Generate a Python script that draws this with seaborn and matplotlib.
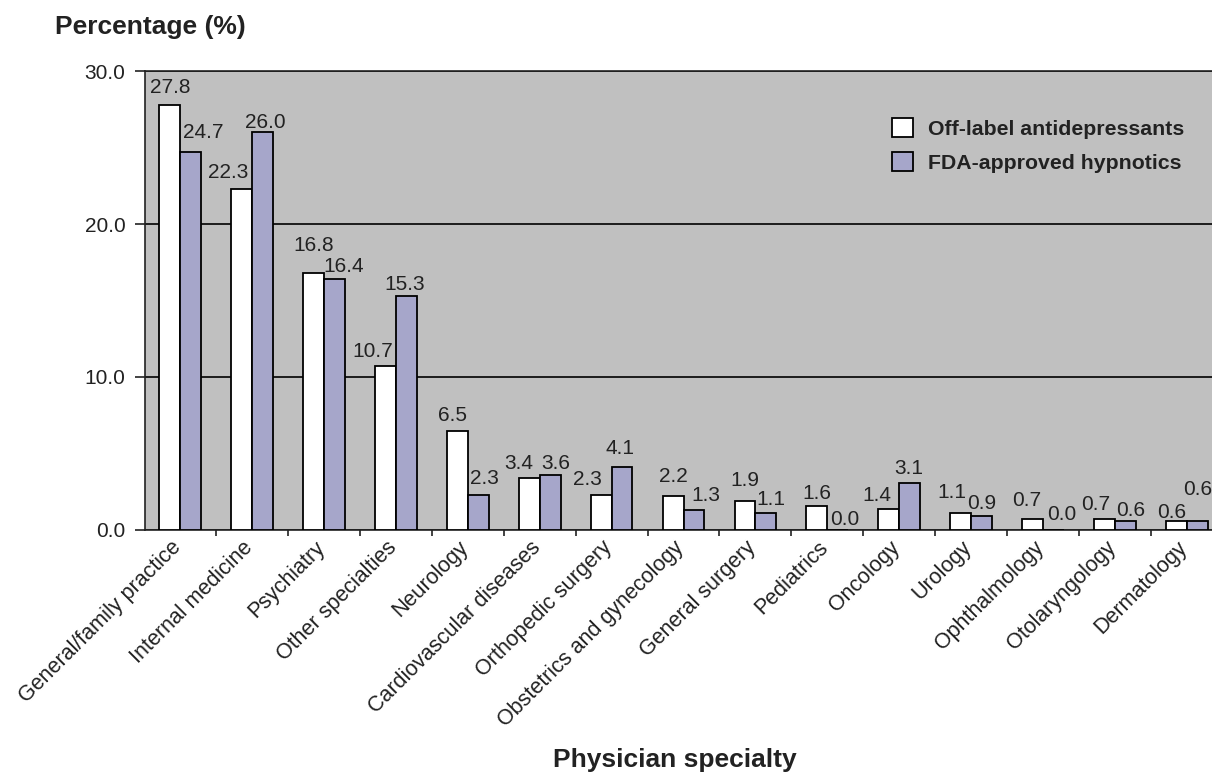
import pandas as pd
import matplotlib.pyplot as plt
import matplotlib.transforms as mtransforms
import seaborn as sns
from matplotlib.ticker import FixedLocator, FormatStrFormatter

# Chart data
specialties = [
    "General/family practice", "Internal medicine", "Psychiatry", "Other specialties",
    "Neurology", "Cardiovascular diseases", "Orthopedic surgery", "Obstetrics and gynecology",
    "General surgery", "Pediatrics", "Oncology", "Urology", "Ophthalmology",
    "Otolaryngology", "Dermatology",
]
antidepressants = [27.8, 22.3, 16.8, 10.7, 6.5, 3.4, 2.3, 2.2, 1.9, 1.6, 1.4, 1.1, 0.7, 0.7, 0.6]
hypnotics = [24.7, 26.0, 16.4, 15.3, 2.3, 3.6, 4.1, 1.3, 1.1, 0.0, 3.1, 0.9, 0.0, 0.6, 0.6]
series_names = ["Off-label antidepressants", "FDA-approved hypnotics"]

# value label nudges in pixels (the original has hand-placed labels)
nudge_x = [
    [0, -13, 0, -13, -5, -11, -14, 0, 0, 0, -12, -9, -6, -9, -5],
    [13, 3, 9, -2, 6, 6, -2, 12, 5, 7, -1, 0, 8, 5, 0],
]
nudge_y = [
    [12, 11, 22, 9, 10, 9, 10, 14, 15, 7, 8, 15, 13, 9, 3],
    [14, 4, 7, 6, 11, 6, 13, 9, 8, 5, 9, 7, 10, 5, 26],
]

df = pd.DataFrame({
    "Specialty": specialties * 2,
    "Percentage": antidepressants + hypnotics,
    "Series": [series_names[0]] * len(specialties) + [series_names[1]] * len(specialties),
})

sns.set_style("white")
plt.rcParams["font.family"] = ["Liberation Sans", "DejaVu Sans"]
txt_color = "#222222"

fig = plt.figure(figsize=(12.12, 7.72), dpi=100)
ax = fig.add_axes([0.1196, 0.3135, 0.8804, 0.5945])
ax.set_facecolor("#c0c0c0")

sns.barplot(data=df, x="Specialty", y="Percentage", hue="Series", order=specialties,
            hue_order=series_names, palette=["white", "#a0a0d0"], edgecolor="black",
            linewidth=1.3, width=0.58, gap=0, ax=ax, zorder=3)

# value labels
px = 72 / 100
for s, cont in enumerate(ax.containers):
    for i, bar in enumerate(cont):
        h = bar.get_height()
        ax.annotate(f"{h:.1f}", (bar.get_x() + bar.get_width() / 2, h),
                    xytext=(nudge_x[s][i] * px, nudge_y[s][i] * px), textcoords="offset points",
                    ha="center", va="baseline", fontsize=15, color=txt_color, zorder=5)

# axes styling
ax.set_ylim(0, 30)
ax.set_xlim(-0.49, 14.35)
ax.set_yticks([0, 10, 20, 30])
ax.yaxis.set_major_formatter(FormatStrFormatter("%.1f"))
ax.grid(axis="y", color="black", linewidth=1.2, zorder=1)
ax.set_axisbelow(True)
for side in ["left", "bottom", "top"]:
    ax.spines[side].set_visible(True)
    ax.spines[side].set_color(txt_color)
    ax.spines[side].set_linewidth(1.2)
ax.spines["right"].set_visible(False)

ax.tick_params(axis="y", left=True, length=7, width=1.2, labelsize=15, colors=txt_color, pad=7)
ax.tick_params(axis="x", which="major", length=0, labelsize=15.5, colors=txt_color, pad=5)
ax.xaxis.set_minor_locator(FixedLocator([i + 0.5 for i in range(len(specialties) - 1)]))
ax.tick_params(axis="x", which="minor", bottom=True, length=4, width=1.2, color=txt_color)
shift = mtransforms.ScaledTranslation(-0.10, 0.0, fig.dpi_scale_trans)
for lbl in ax.get_xticklabels():
    lbl.set_rotation(45)
    lbl.set_ha("right")
    lbl.set_rotation_mode("anchor")
    lbl.set_transform(lbl.get_transform() + shift)

ax.set_xlabel("")
ax.set_ylabel("")
fig.text(0.045, 0.965, "Percentage (%)", fontsize=19, fontweight="bold", color=txt_color,
         va="center")
fig.text(0.557, 0.007, "Physician specialty", fontsize=19, fontweight="bold", color=txt_color,
         ha="center", va="baseline")

leg = ax.legend(loc="upper left", bbox_to_anchor=(0.700, 0.898), frameon=False, fontsize=15.3,
                borderpad=0, borderaxespad=0, handlelength=1.0, handleheight=1.0,
                labelspacing=0.64, handletextpad=0.7)
for t in leg.get_texts():
    t.set_fontweight("bold")
    t.set_color(txt_color)

fig.savefig("out.png", dpi=100)
